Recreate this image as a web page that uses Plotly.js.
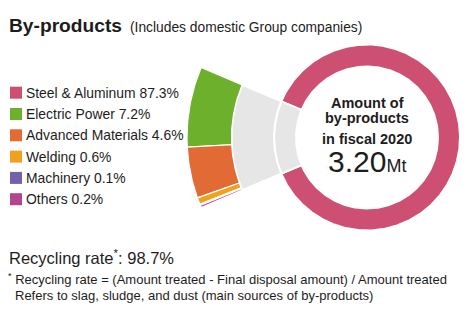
<!DOCTYPE html>
<html>
<head>
<meta charset="utf-8">
<script src="https://cdn.plot.ly/plotly-3.0.1.min.js"></script>
<style>html,body{margin:0;padding:0;background:#fff;}#chart{width:470px;height:331px;}</style>
</head>
<body>
<div id="chart"></div>
<script>
// ---- data ----
const categories = ['Steel & Aluminum', 'Electric Power', 'Advanced Materials', 'Welding', 'Machinery', 'Others'];
const shares = [87.3, 7.2, 4.6, 0.6, 0.1, 0.2];
const colors = ['#cd4f71', '#6cb02b', '#e26a35', '#f0a11e', '#7362aa', '#b3448f'];
const totalAmount = '3.20';
const totalUnit = 'Mt';
const fiscalYear = 2020;
const recyclingRate = 98.7;

// ---- layout constants ----
const cx = 367, cy = 137.5;
const rHoleIn = 71, rHoleOut = 93;
const rFanOut = 135.5, rRingOut = 180;
const FONT = 'Liberation Sans, Arial, sans-serif';
const TXT = '#1d1d1d';
const GRAY = '#e6e6e6';

function sector(r0, r1, a0, a1) {
  const n = Math.max(3, Math.ceil(Math.abs(a1 - a0) / 0.5) + 1);
  const xs = [], ys = [];
  for (let i = 0; i < n; i++) {
    const a = (a0 + (a1 - a0) * i / (n - 1)) * Math.PI / 180;
    xs.push(cx + r1 * Math.cos(a)); ys.push(cy - r1 * Math.sin(a));
  }
  for (let i = n - 1; i >= 0; i--) {
    const a = (a0 + (a1 - a0) * i / (n - 1)) * Math.PI / 180;
    xs.push(cx + r0 * Math.cos(a)); ys.push(cy - r0 * Math.sin(a));
  }
  xs.push(xs[0]); ys.push(ys[0]);
  return {x: xs, y: ys};
}

function poly(p, fillcolor, lw) {
  return {type: 'scatter', mode: 'lines', x: p.x, y: p.y, fill: 'toself', fillcolor: fillcolor,
          line: {color: '#ffffff', width: lw}, hoverinfo: 'skip', showlegend: false};
}

const total = shares.reduce((a, b) => a + b, 0);
const otherShare = total - shares[0];
const spanOther = otherShare / total * 360;
const startTop = 180 - spanOther / 2;   // top edge of the grey/breakdown sector
const endBottom = 180 + spanOther / 2;

const traces = [];
// main donut: steel & aluminium slice and grey "others" slice
traces.push(poly(sector(rHoleIn, rHoleOut, endBottom, endBottom + shares[0] / total * 360), colors[0], 2));
traces.push(poly(sector(rHoleIn, rHoleOut, startTop, endBottom), GRAY, 2));
// connector fan
traces.push(poly(sector(rHoleOut, rFanOut, startTop, endBottom), GRAY, 2));
// breakdown ring
let a = startTop;
for (let i = 1; i < shares.length; i++) {
  const span = shares[i] / total * 360;
  traces.push(poly(sector(rFanOut, rRingOut, a, a + span), colors[i], 1.2));
  a += span;
}

// legend squares
const legY0 = 92.7, legDy = 21.3;
const legYs = categories.map((c, i) => legY0 + i * legDy);
traces.push({type: 'scatter', mode: 'markers', x: categories.map(() => 16), y: legYs,
  marker: {symbol: 'square', size: 12, color: colors, line: {width: 0}}, hoverinfo: 'skip', showlegend: false});

const annotations = [];
function ann(x, y, text, size, opts) {
  annotations.push(Object.assign({x: x, y: y, xref: 'x', yref: 'y', text: text, showarrow: false,
    xanchor: 'left', yanchor: 'middle', font: {family: FONT, size: size, color: TXT}}, opts || {}));
}
ann(7, 25, '<b>By-products</b>', 19.2);
ann(128, 27, '(Includes domestic Group companies)', 13.8);
categories.forEach((c, i) => ann(24, legYs[i], c + ' ' + shares[i].toFixed(1) + '%', 13.9));
ann(cx, 102.5, '<b>Amount of</b>', 14.5, {xanchor: 'center'});
ann(cx, 117.5, '<b>by-products</b>', 14.5, {xanchor: 'center'});
ann(cx, 138.5, '<b>in fiscal ' + fiscalYear + '</b>', 14.5, {xanchor: 'center'});
ann(cx, 161, totalAmount + '<span style="font-size:18px">' + totalUnit + '</span>', 30, {xanchor: 'center'});
ann(7, 256.5, 'Recycling rate<sup>*</sup>: ' + recyclingRate.toFixed(1) + '%', 16.5);
ann(6, 279, '<sup>*</sup> Recycling rate = (Amount treated - Final disposal amount) / Amount treated', 13);
ann(13, 295.5, 'Refers to slag, sludge, and dust (main sources of by-products)', 13);

const layout = {
  width: 470, height: 331, margin: {l: 0, r: 0, t: 0, b: 0},
  paper_bgcolor: '#ffffff', plot_bgcolor: '#ffffff',
  xaxis: {range: [0, 470], visible: false, fixedrange: true},
  yaxis: {range: [331, 0], visible: false, fixedrange: true},
  showlegend: false,
  annotations: annotations
};
Plotly.newPlot('chart', traces, layout, {staticPlot: true, displayModeBar: false});
</script>
</body>
</html>
